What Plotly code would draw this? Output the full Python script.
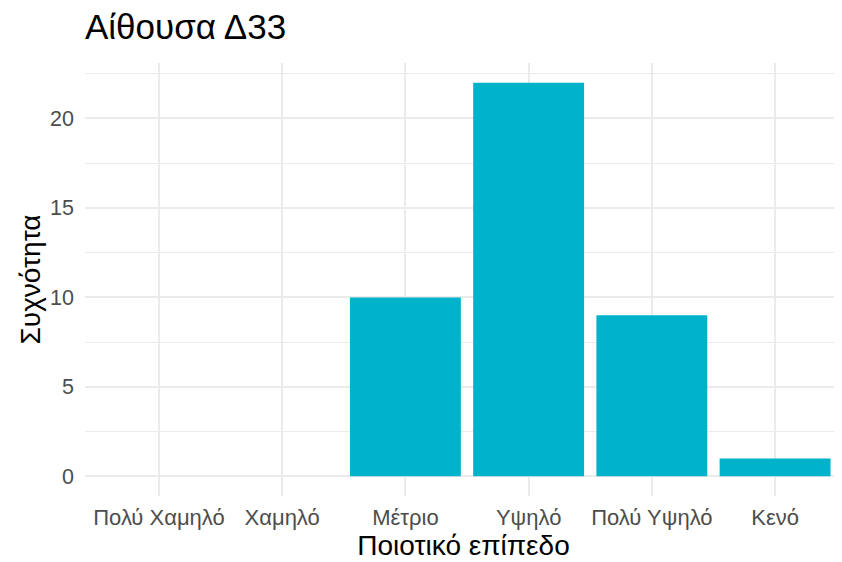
import plotly.graph_objects as go

categories = ["Πολύ Χαμηλό", "Χαμηλό", "Μέτριο", "Υψηλό", "Πολύ Υψηλό", "Κενό"]
counts = [0, 0, 10, 22, 9, 1]
y_ticks = [0, 5, 10, 15, 20]
y_minor = [2.5, 7.5, 12.5, 17.5, 22.5]

title_text = "Αίθουσα Δ33"
x_title = "Ποιοτικό επίπεδο"
y_title = "Συχνότητα"

FONT = "Liberation Sans, Arial, sans-serif"
GRID = "#EBEBEB"

W, H = 834, 554  # page body has an 8px margin

fig = go.Figure(
    go.Bar(
        x=categories,
        y=counts,
        width=0.9,
        marker=dict(color="#00B2CA", line=dict(width=0)),
        hoverinfo="x+y",
    )
)

fig.update_layout(
    width=W,
    height=H,
    paper_bgcolor="white",
    plot_bgcolor="white",
    margin=dict(l=77, r=0, t=55, b=66),
    showlegend=False,
    title=dict(
        text=title_text,
        x=77 / W,
        xanchor="left",
        xref="container",
        y=1 - 19 / H,
        yanchor="middle",
        yref="container",
        font=dict(family=FONT, size=35, color="black"),
    ),
    bargap=0.1,
)

fig.update_xaxes(
    type="category",
    categoryorder="array",
    categoryarray=categories,
    range=[-0.6, 5.543],
    showgrid=True,
    gridcolor=GRID,
    gridwidth=2,
    zeroline=False,
    showline=False,
    ticks="",
    tickfont=dict(family=FONT, size=22, color="#4D4D4D"),
    ticklabelstandoff=6,
    title=dict(text=x_title, font=dict(family=FONT, size=28, color="black"), standoff=0),
)

fig.update_yaxes(
    range=[-1.1, 23.1],
    tickvals=y_ticks,
    showgrid=True,
    gridcolor=GRID,
    gridwidth=2,
    minor=dict(tickvals=y_minor, showgrid=True, gridcolor=GRID, gridwidth=1.2),
    zeroline=False,
    showline=False,
    ticks="",
    tickfont=dict(family=FONT, size=21.5, color="#4D4D4D"),
    ticklabelstandoff=10,
    title=dict(text=y_title, font=dict(family=FONT, size=28, color="black"), standoff=1),
)

fig.write_html("out.html")
